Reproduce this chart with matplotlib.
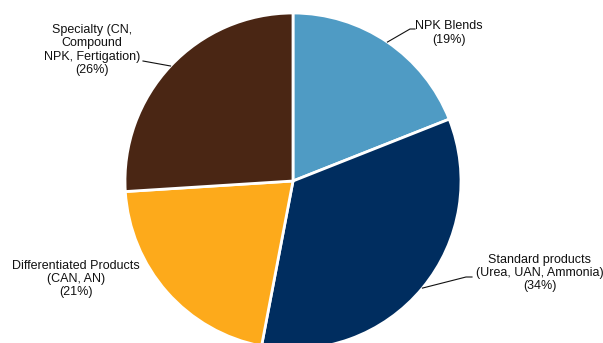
import numpy as np
import matplotlib.pyplot as plt

plt.rcParams['font.family'] = ['Liberation Sans', 'DejaVu Sans']

labels = ["NPK Blends", "Standard products\n(Urea, UAN, Ammonia)",
          "Differentiated Products\n(CAN, AN)", "Specialty (CN,\nCompound\nNPK, Fertigation)"]
shares = [19, 34, 21, 26]
colors = ["#4F9BC4", "#002D5F", "#FDAA1B", "#4A2614"]

W, H = 603, 343
cx, cy, R = 293, 181, 168  # pie centre and radius in pixels

fig = plt.figure(figsize=(W / 100, H / 100), dpi=100)
ax = fig.add_axes([(cx - R) / W, (H - cy - R) / H, 2 * R / W, 2 * R / H])

wedges, _ = ax.pie(shares, colors=colors, startangle=90, counterclock=False,
                   wedgeprops=dict(edgecolor="white", linewidth=2))
ax.set_xlim(-1, 1)
ax.set_ylim(-1, 1)
ax.set_aspect("equal")
ax.axis("off")


def px(x, y):
    # pixel position -> data coords of the pie axes
    return (x - cx) / R, (cy - y) / R


# label centre (pixels), elbow points of the leader line (pixels)
label_pos = [(449, 33), (540, 273), (76, 279), (92, 50)]
elbows = [[(410, 29), (415, 29)], [(466, 277), (472, 277)], None, [(143, 61)]]

cum = 0
for lab, s, pos, elb in zip(labels, shares, label_pos, elbows):
    mid = np.deg2rad(90 - (cum + s / 2) * 3.6)
    cum += s
    tx, ty = px(*pos)
    ax.text(tx, ty, f"{lab}\n({s}%)", ha="center", va="center",
            fontsize=9, linespacing=1.15, color="#111111", clip_on=False)
    if elb:
        xs = [np.cos(mid)] + [px(*p)[0] for p in elb]
        ys = [np.sin(mid)] + [px(*p)[1] for p in elb]
        ax.plot(xs, ys, color="#111111", lw=0.8, clip_on=False)

fig.savefig("out.png", dpi=100)
